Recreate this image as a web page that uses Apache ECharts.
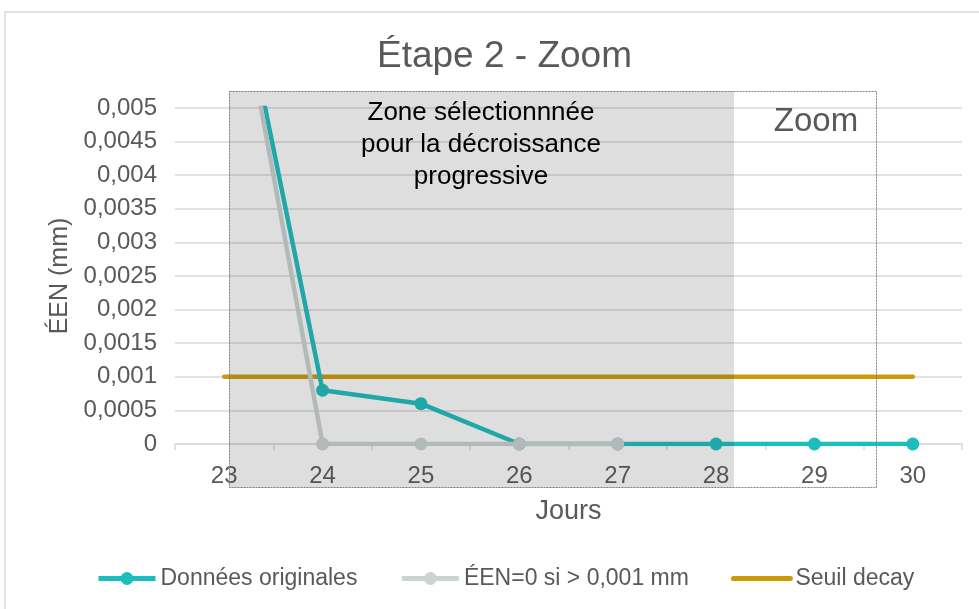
<!DOCTYPE html>
<html>
<head>
<meta charset="utf-8">
<script src="https://cdn.jsdelivr.net/npm/echarts@6/dist/echarts.min.js"></script>
<style>html,body{margin:0;padding:0;background:#fff}#c{width:979px;height:609px}</style>
</head>
<body>
<div id="c"></div>
<script>
const categories = ['23','24','25','26','27','28','29','30'];
const original = [0.008, 0.0008, 0.0006, 0, 0, 0, 0, 0];
const modified = [0.008, 0, 0, 0, 0, null, null, null];
const seuil = [0.001, 0.001, 0.001, 0.001, 0.001, 0.001, 0.001, 0.001];
const yTicks = {min: 0, max: 0.005, interval: 0.0005};

const FONT = 'Liberation Sans, Arial, sans-serif';
const TXT = '#595959';
const chart = echarts.init(document.getElementById('c'));
chart.setOption({
  animation: false,
  textStyle: {fontFamily: FONT},
  title: {
    text: 'Étape 2 - Zoom', left: 372, top: 33,
    textStyle: {fontSize: 37, fontWeight: 'normal', color: TXT, fontFamily: FONT}
  },
  grid: {left: 175, right: 17, top: 108, bottom: 165, containLabel: false},
  legend: {
    left: 96, top: 567, padding: 0, itemWidth: 57, itemHeight: 16, itemGap: 42,
    lineStyle: {width: 5},
    textStyle: {fontSize: 23, color: TXT, fontFamily: FONT},
    data: [
      {name: 'Données originales'},
      {name: 'ÉEN=0 si > 0,001 mm'},
      {name: 'Seuil decay', itemStyle: {color: 'rgba(0,0,0,0)', opacity: 0}}
    ]
  },
  xAxis: {
    type: 'category', data: categories, boundaryGap: true,
    name: 'Jours', nameLocation: 'middle', nameGap: 54,
    nameTextStyle: {fontSize: 27, color: TXT, fontFamily: FONT},
    axisLine: {lineStyle: {color: '#d9d9d9', width: 1.5}},
    axisTick: {show: true, length: 6, lineStyle: {color: '#d9d9d9', width: 1.5}},
    axisLabel: {fontSize: 24, color: TXT, margin: 20, fontFamily: FONT}
  },
  yAxis: {
    type: 'value', min: yTicks.min, max: yTicks.max, interval: yTicks.interval,
    name: 'ÉEN (mm)', nameLocation: 'middle', nameGap: 96,
    nameTextStyle: {fontSize: 25, color: TXT, fontFamily: FONT},
    axisLine: {show: false}, axisTick: {show: false},
    splitLine: {lineStyle: {color: '#d9d9d9', width: 1.5}},
    axisLabel: {fontSize: 24, color: TXT, margin: 18, fontFamily: FONT,
      formatter: v => parseFloat(v.toFixed(4)).toString().replace('.', ',')}
  },
  series: [
    {
      name: 'Données originales', type: 'line', data: original, z: 3,
      symbol: 'circle', symbolSize: 13, showAllSymbol: true,
      itemStyle: {color: '#1bbdbd'}, lineStyle: {color: '#1bbdbd', width: 4.5}
    },
    {
      name: 'ÉEN=0 si > 0,001 mm', type: 'line', data: modified, z: 4,
      symbol: 'circle', symbolSize: 13, showAllSymbol: true,
      itemStyle: {color: '#ccd3d3'}, lineStyle: {color: '#ccd3d3', width: 4.5}
    },
    {
      name: 'Seuil decay', type: 'line', data: seuil, z: 2,
      showSymbol: false, symbol: 'none',
      itemStyle: {color: '#cc9a06'}, lineStyle: {color: '#cc9a06', width: 4.5, cap: 'round'}
    }
  ],
  graphic: [
    {type: 'rect', z: -10, silent: true, shape: {x: 5, y: 12, width: 1000, height: 700},
      style: {fill: 'none', stroke: '#d9d9d9', lineWidth: 1.5}},
    {type: 'rect', z: 100, silent: true, shape: {x: 229, y: 91, width: 505, height: 397},
      style: {fill: 'rgba(60,60,60,0.17)'}},
    {type: 'rect', z: 101, silent: true, shape: {x: 229.5, y: 91.5, width: 647, height: 396},
      style: {fill: 'none', stroke: '#7f7f7f', lineWidth: 1, lineDash: [2, 1]}},
    {type: 'text', z: 102, silent: true,
      style: {x: 481, y: 97, text: 'Zone sélectionnnée\npour la décroissance\nprogressive',
        align: 'center', verticalAlign: 'top', fontSize: 26, lineHeight: 32, fill: '#000', fontFamily: FONT}},
    {type: 'text', z: 102, silent: true,
      style: {x: 816, y: 122, text: 'Zoom', align: 'center', verticalAlign: 'middle',
        fontSize: 33, fill: TXT, fontFamily: FONT}}
  ]
});
</script>
</body>
</html>
